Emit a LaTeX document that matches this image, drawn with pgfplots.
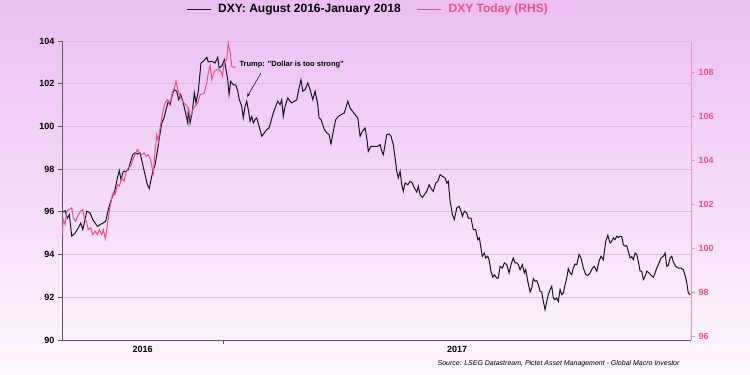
\documentclass[border=0pt]{standalone}
\usepackage{pgfplots}
\pgfplotsset{compat=1.18}
\usetikzlibrary{arrows.meta}
\usepackage{fontspec}
\setmainfont{Liberation Sans}
\definecolor{bgtop}{RGB}{236,190,244}
\definecolor{bgbot}{RGB}{253,246,253}
\definecolor{dxypink}{RGB}{232,82,132}
\definecolor{pinkaxis}{RGB}{240,150,190}
\definecolor{gridc}{RGB}{214,192,220}
\definecolor{dxyblack}{RGB}{25,20,35}
\definecolor{axisgray}{RGB}{90,90,90}

% x = days since 1 January 2017
\pgfplotstableread{
x y
-125.0 96.00
-123.2 96.05
-121.4 95.70
-119.9 95.87
-118.0 94.86
-115.4 95.00
-112.9 95.25
-111.0 95.48
-109.4 95.17
-107.6 95.64
-106.3 96.03
-103.7 95.95
-101.6 95.64
-99.8 95.48
-98.0 95.32
-95.9 95.40
-93.4 95.48
-91.5 95.56
-89.5 96.10
-87.6 96.50
-85.6 96.80
-84.2 97.04
-82.4 97.59
-80.9 97.93
-79.6 97.50
-77.8 97.90
-75.7 97.90
-73.9 97.98
-72.0 98.37
-70.4 98.68
-68.6 98.76
-66.5 98.71
-64.7 98.76
-62.6 98.20
-60.8 97.74
-59.0 97.27
-57.5 97.09
-56.4 97.43
-54.8 97.90
-53.0 98.20
-51.2 98.84
-49.7 99.46
-47.8 100.16
-46.0 100.40
-44.5 100.78
-42.7 101.18
-41.3 101.02
-39.5 101.49
-38.2 101.72
-36.1 101.65
-34.6 101.25
-33.0 101.49
-31.0 101.10
-29.1 100.60
-27.5 100.16
-27.0 100.86
-25.7 100.16
-23.9 100.71
-22.4 101.57
-21.1 101.10
-19.3 101.65
-17.2 102.97
-15.4 103.05
-12.7 103.24
-11.5 103.02
-8.8 103.05
-6.2 102.97
-4.1 103.24
-3.1 102.74
-1.0 102.82
1.0 103.12
2.1 102.74
3.7 102.19
4.7 101.49
6.0 102.11
8.0 101.95
9.9 101.95
11.5 101.65
12.7 101.25
14.6 100.94
15.8 100.40
17.2 100.94
18.5 101.18
19.7 100.78
21.1 100.24
22.4 100.47
23.6 100.16
25.0 100.32
26.3 100.40
28.1 100.01
30.2 99.54
32.2 99.70
34.1 99.85
35.9 99.93
37.4 100.24
39.2 100.63
40.6 100.86
42.7 101.18
44.5 101.02
45.8 101.25
47.0 100.47
48.4 100.94
50.5 101.33
52.3 101.18
53.6 101.10
55.6 101.18
57.5 101.25
59.3 101.80
60.8 102.19
62.2 101.65
64.0 101.72
66.1 102.03
67.9 101.72
70.0 101.25
71.8 101.65
73.9 101.02
74.9 100.40
76.4 100.32
79.0 99.85
80.9 99.70
82.7 99.62
84.2 99.18
86.0 99.77
87.9 100.32
89.9 100.47
92.0 100.55
94.6 100.63
97.3 101.18
99.1 100.86
100.9 100.71
103.0 100.55
105.1 100.40
106.9 99.54
108.7 99.77
110.8 99.93
112.1 99.46
113.3 98.84
115.4 99.07
118.0 99.07
120.7 99.07
122.5 99.15
123.8 98.84
125.0 98.68
126.4 99.15
127.7 99.62
129.5 99.65
131.0 99.54
132.8 99.15
134.2 98.52
135.5 97.90
136.7 97.59
138.1 97.90
139.4 97.27
140.6 96.96
142.0 97.35
144.1 97.27
145.9 97.43
147.7 97.35
149.2 97.12
151.1 96.93
152.3 97.20
153.7 96.80
155.5 96.68
157.0 96.80
158.9 96.96
160.7 97.27
162.8 97.04
164.0 96.96
165.9 97.35
167.5 97.43
169.3 97.74
171.1 97.66
173.2 97.59
174.5 97.35
175.7 97.43
177.1 96.50
178.9 95.87
180.4 95.64
182.3 96.18
184.1 96.26
185.6 96.03
186.7 95.79
188.2 96.03
190.1 95.95
191.3 95.71
193.4 95.71
195.2 95.17
197.1 95.17
198.7 94.70
199.9 94.78
201.2 94.31
202.2 93.92
203.8 94.07
204.9 93.84
206.4 93.92
207.5 93.76
209.0 93.22
210.4 92.94
211.6 93.06
213.5 92.90
214.7 92.90
216.1 93.45
217.9 93.37
219.4 93.61
221.3 93.53
223.1 93.14
224.6 93.53
226.4 93.84
227.8 93.61
229.1 93.61
230.3 93.53
231.7 93.29
233.5 93.53
235.0 93.14
236.1 93.30
237.7 92.75
239.5 92.25
240.8 92.44
242.0 92.87
243.4 92.75
244.7 92.78
245.9 92.59
247.3 92.28
248.6 92.25
249.8 91.81
251.2 91.42
252.5 91.81
253.7 92.12
255.1 92.36
256.4 92.52
257.6 91.97
258.9 91.89
260.2 91.97
261.5 91.81
262.9 92.36
264.2 92.12
265.4 92.20
266.8 92.59
268.1 92.90
269.3 93.34
270.7 93.14
272.0 93.06
273.2 93.37
274.6 93.56
275.9 93.53
277.7 94.00
279.2 93.84
281.0 93.37
282.9 93.06
284.5 93.03
286.3 93.14
288.1 93.37
289.6 93.45
291.5 93.22
293.3 93.69
294.8 93.92
296.6 93.76
298.5 94.62
300.1 94.90
301.9 94.54
303.2 94.62
304.4 94.78
305.8 94.70
307.1 94.86
308.4 94.80
309.7 94.86
311.0 94.84
312.2 94.46
313.6 94.39
314.9 94.42
316.1 94.15
317.5 93.84
318.8 93.90
320.0 93.76
321.4 94.07
322.7 94.00
323.9 93.69
325.3 93.22
326.6 93.22
327.8 92.83
329.2 92.98
330.5 93.22
332.3 93.14
333.8 93.03
335.6 92.94
337.0 93.14
338.3 93.37
340.1 93.61
341.6 93.84
343.4 93.92
344.8 94.07
346.1 93.45
347.3 93.50
348.7 93.84
350.0 93.92
351.2 93.65
353.1 93.45
355.1 93.37
357.2 93.37
359.0 93.29
360.4 93.03
361.7 92.67
362.9 92.20
364.3 92.12
}\dxyhist

\pgfplotstableread{
x y
-125.5 100.64
-124.6 101.32
-123.2 101.10
-121.9 101.71
-119.9 101.78
-118.0 101.86
-116.8 101.40
-114.9 101.25
-112.9 101.55
-111.0 101.71
-109.4 101.78
-108.2 101.40
-106.9 101.32
-105.1 100.87
-103.2 100.95
-101.6 100.64
-99.8 100.80
-98.0 100.64
-96.5 100.87
-94.6 100.64
-93.4 100.87
-91.8 100.46
-90.7 100.87
-88.7 101.71
-86.8 102.31
-85.6 102.54
-84.2 102.46
-82.4 102.92
-80.9 102.85
-79.0 103.22
-77.2 103.07
-75.7 103.45
-73.9 103.68
-72.0 103.75
-70.4 104.05
-68.6 104.28
-66.8 104.51
-65.3 104.36
-63.4 104.28
-61.6 104.36
-60.1 104.21
-58.3 104.28
-57.0 104.13
-55.7 103.83
-54.4 103.45
-53.0 104.43
-51.7 105.19
-50.5 104.89
-49.1 105.49
-47.8 105.95
-46.6 106.33
-45.2 106.63
-43.4 106.78
-41.9 106.63
-40.6 106.78
-39.2 107.16
-38.0 107.31
-36.7 107.62
-35.3 107.24
-33.5 106.94
-32.2 106.78
-30.4 106.63
-28.9 106.55
-27.1 106.40
-25.7 105.95
-23.2 106.39
-21.8 106.48
-19.7 106.63
-17.9 107.01
-16.1 107.05
-14.8 107.07
-12.7 107.53
-11.5 108.00
-10.1 108.35
-8.8 107.69
-6.8 108.07
-4.9 108.15
-3.1 108.13
-1.6 108.07
-0.5 107.85
1.0 108.50
2.9 108.60
4.1 109.35
5.5 108.95
6.8 108.30
8.8 108.25
9.8 108.28
}\dxytoday

\begin{document}
\begin{tikzpicture}
\shade[top color=bgtop,bottom color=bgbot] (0pt,0pt) rectangle (750pt,375pt);
\begin{axis}[
  at={(62pt,35pt)}, anchor=south west,
  width=629pt, height=299pt, scale only axis,
  xmin=-125.6, xmax=365, ymin=90, ymax=104,
  axis x line*=bottom, axis y line*=left,
  axis line style={axisgray, line width=0.8pt},
  xtick={0}, xticklabels={},
  ytick={90,92,...,104},
  tick align=outside, major tick length=4pt,
  tick style={axisgray, line width=0.8pt},
  yticklabel style={font=\bfseries\fontsize{9}{10}\selectfont, black},
  /pgf/number format/assume math mode=true,
  ymajorgrids, grid style={gridc, line width=0.8pt},
  clip=false,
  legend style={at={(0.4865,1.107)}, anchor=center, draw=none, fill=none,
    legend columns=2, font=\bfseries\fontsize{12}{14}\selectfont,
    /tikz/every odd column/.append style={column sep=5pt},
    /tikz/every even column/.append style={column sep=14pt}},
  legend image code/.code={\draw[#1] (0pt,0pt) -- (24pt,0pt);},
]
\addplot[dxyblack, line width=1pt] table[x=x,y=y] {\dxyhist};
\addlegendentry{DXY: August 2016-January 2018}
\addlegendimage{dxypink, line width=1pt}
\addlegendentry{\textcolor{dxypink}{DXY Today (RHS)}}
\node[font=\bfseries\fontsize{9}{10}\selectfont, anchor=north] at (axis cs:-62.8,90) [yshift=-3pt] {2016};
\node[font=\bfseries\fontsize{9}{10}\selectfont, anchor=north] at (axis cs:182.5,90) [yshift=-3pt] {2017};
\node[font=\bfseries\fontsize{7.5}{9}\selectfont, anchor=west, inner sep=0pt] at (axis cs:12.7,102.88) {Trump: "Dollar is too strong"};
\draw[-{Stealth[length=4pt]}, dxyblack, line width=0.6pt] (axis cs:29.6,102.5) -- (axis cs:18.7,101.38);
\end{axis}
\begin{axis}[
  at={(62pt,35pt)}, anchor=south west,
  width=629pt, height=299pt, scale only axis,
  xmin=-125.6, xmax=365, ymin=95.85, ymax=109.45,
  axis y line*=right, axis x line=none,
  y axis line style={pinkaxis, line width=1pt},
  ytick={96,98,...,108},
  tick align=outside, major tick length=4pt,
  ytick style={pinkaxis, line width=0.8pt},
  yticklabel style={font=\bfseries\fontsize{9}{10}\selectfont, dxypink},
  /pgf/number format/assume math mode=true,
]
\addplot[dxypink, line width=1pt] table[x=x,y=y] {\dxytoday};
\end{axis}
\node[font=\itshape\fontsize{7}{8}\selectfont, anchor=east] at (683pt,11pt) {Source: LSEG Datastream, Pictet Asset Management - Global Macro Investor};
\pgfresetboundingbox
\useasboundingbox (0pt,0pt) rectangle (750pt,375pt);
\end{tikzpicture}
\end{document}
